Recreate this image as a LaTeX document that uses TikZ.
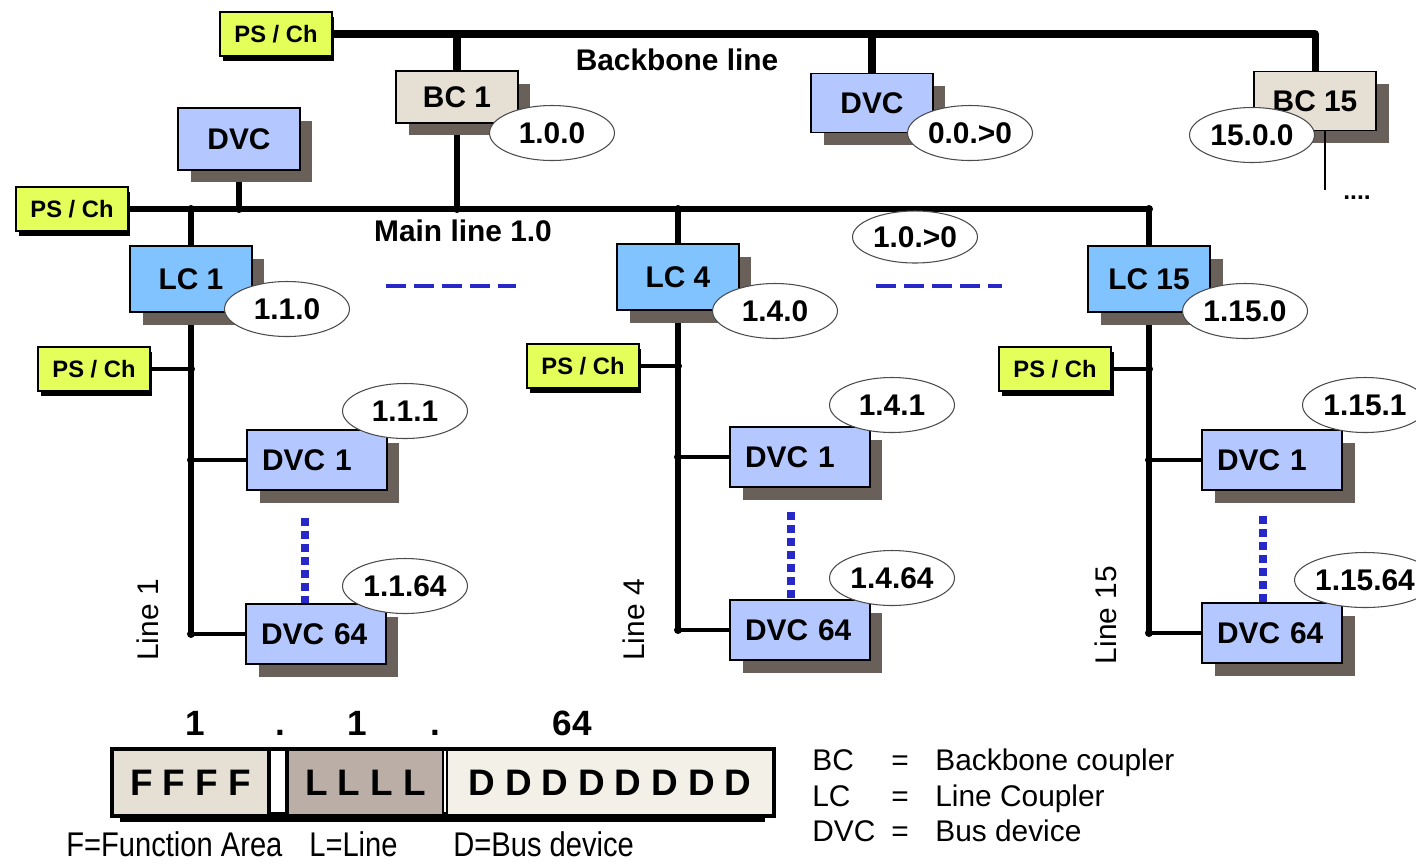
\documentclass[tikz,border=0pt]{standalone}
\usepackage{fontspec}
\setmainfont{Liberation Sans}
\newfontfamily\narrowfont[FakeStretch=0.85]{Liberation Sans}
\definecolor{psYellow}{RGB}{228,255,90}
\definecolor{bcBeige}{RGB}{230,223,212}
\definecolor{dvcBlue}{RGB}{180,200,255}
\definecolor{lcBlue}{RGB}{128,195,255}
\definecolor{shadowGray}{RGB}{105,97,89}
\definecolor{dashBlue}{RGB}{40,40,200}
\definecolor{lineGray}{RGB}{186,174,166}
\definecolor{devWhite}{RGB}{243,240,232}
\usetikzlibrary{shapes.geometric, shadows, backgrounds}
\newcommand{\fsz}[1]{\fontsize{#1}{#1}\selectfont}

\begin{document}
\begin{tikzpicture}[x=0.02cm, y=-0.02cm,
    box/.style={draw, line width=0.8pt, minimum width=2.44cm, minimum height=1.18cm,
                font=\fsz{17}\bfseries,
                drop shadow={shadow xshift=0.25cm, shadow yshift=-0.25cm, fill=shadowGray, opacity=1}},
    bc/.style={box, fill=bcBeige},
    dvc/.style={box, fill=dvcBlue},
    lc/.style={box, fill=lcBlue, minimum height=1.32cm},
    dev/.style={box, fill=dvcBlue, minimum width=2.8cm, minimum height=1.2cm,
                text width=2.2cm, inner xsep=0.3cm, align=left},
    ps/.style={draw, line width=0.8pt, fill=psYellow, minimum width=2.24cm, minimum height=0.88cm,
               font=\fsz{13.5}\bfseries,
               drop shadow={shadow xshift=0.05cm, shadow yshift=-0.1cm, fill=black, opacity=1}},
    addr/.style={ellipse, draw=black!70, line width=0.6pt, fill=white, minimum width=2.5cm,
                 minimum height=1.1cm, inner sep=0pt, font=\fsz{17}\bfseries},
    backbone/.style={line width=4pt},
    bus/.style={line width=3pt},
    branch/.style={line width=2.3pt},
    junction/.style={radius=0.08cm},
    gapdash/.style={dashBlue, line width=2.8pt, dash pattern=on 0.4cm off 0.16cm},
    devdots/.style={dashBlue, line width=0.16cm, dash pattern=on 0.16cm off 0.1cm},
    title/.style={font=\fsz{17}\bfseries},
    linelabel/.style={font=\fsz{17}, rotate=90},
    cell/.style={draw, line width=0.8pt, minimum height=1.3cm, inner sep=0pt, font=\fsz{21}\bfseries},
    digit/.style={font=\fsz{20}\bfseries, anchor=base},
    legend/.style={font=\fsz{17}, inner sep=0pt, anchor=base west},
    fieldname/.style={font=\narrowfont\fsz{19.5}, inner sep=0pt, anchor=base west}
  ]
    \useasboundingbox (0,0) rectangle (1416,863);

    % power supplies
    \node[ps] (psBB) at (276,34) {PS / Ch};
    \node[ps] (psML) at (72,209) {PS / Ch};
    \node[ps] (ps1) at (94,369) {PS / Ch};
    \node[ps] (ps4) at (583,366) {PS / Ch};
    \node[ps] (ps15) at (1055,369) {PS / Ch};

    % backbone and main line devices
    \node[bc, minimum height=1.04cm] (bc1) at (457,97) {BC 1};
    \node[dvc] (dvcBB) at (872,103) {DVC};
    \node[bc] (bc15) at (1315,101) {BC 15};
    \node[dvc, minimum height=1.24cm] (dvcML) at (239,139) {DVC};

    % line couplers
    \node[lc] (lc1) at (191,279) {LC 1};
    \node[lc] (lc4) at (678,277) {LC 4};
    \node[lc] (lc15) at (1149,279) {LC 15};

    % bus devices
    \node[dev] (dvcA1) at (317,460) {DVC 1};
    \node[dev] (dvcA64) at (316,634) {DVC 64};
    \node[dev] (dvcB1) at (800,457) {DVC 1};
    \node[dev] (dvcB64) at (800,630) {DVC 64};
    \node[dev] (dvcC1) at (1272,460) {DVC 1};
    \node[dev] (dvcC64) at (1272,633) {DVC 64};

    % addresses
    \node[addr] (a100) at (552,133) {1.0.0};
    \node[addr] (a00x) at (970,133) {0.0.>0};
    \node[addr] (a1500) at (1252,135) {15.0.0};
    \node[addr, minimum height=1.04cm] (a10x) at (915,237) {1.0.>0};
    \node[addr] (a110) at (287,309) {1.1.0};
    \node[addr] (a140) at (775,311) {1.4.0};
    \node[addr] (a1150) at (1245,311) {1.15.0};
    \node[addr] (a111) at (405,411) {1.1.1};
    \node[addr] (a1164) at (405,586) {1.1.64};
    \node[addr] (a141) at (892,405) {1.4.1};
    \node[addr] (a1464) at (892,578) {1.4.64};
    \node[addr] (a1151) at (1365,405) {1.15.1};
    \node[addr] (a11564) at (1365,580) {1.15.64};

    \coordinate (bbEnd) at (bc15.north |- psBB.east);
    \coordinate (mlEnd) at (lc15.north |- psML.east);

    \begin{scope}[on background layer]
      \draw[backbone] (psBB.east) -- (bbEnd);
      \draw[backbone] (bc1.north |- psBB.east) -- (bc1.north);
      \draw[backbone] (dvcBB.north |- psBB.east) -- (dvcBB.north);
      \draw[backbone] (bbEnd) -- (bc15.north);
      \draw[bus] (psML.east) -- (mlEnd);
      \draw[bus] (bc1.south) -- (bc1.south |- psML.east);
      \draw[bus] (dvcML.south) -- (dvcML.south |- psML.east);
      \draw[bus] (lc1.north |- psML.east) -- (lc1.north |- dvcA64.west);
      \draw[bus] (lc4.north |- psML.east) -- (lc4.north |- dvcB64.west);
      \draw[bus] (mlEnd) -- (lc15.north |- dvcC64.west);
      \draw[branch] (ps1.east) -- (ps1.east -| lc1.north);
      \draw[branch] (ps4.east) -- (ps4.east -| lc4.north);
      \draw[branch] (ps15.east) -- (ps15.east -| lc15.north);
      \draw[branch] (dvcA1.west -| lc1.north) -- (dvcA1.west);
      \draw[branch] (dvcA64.west -| lc1.north) -- (dvcA64.west);
      \draw[branch] (dvcB1.west -| lc4.north) -- (dvcB1.west);
      \draw[branch] (dvcB64.west -| lc4.north) -- (dvcB64.west);
      \draw[branch] (dvcC1.west -| lc15.north) -- (dvcC1.west);
      \draw[branch] (dvcC64.west -| lc15.north) -- (dvcC64.west);
    \end{scope}

    % junctions
    \fill[junction] (bc1.north |- psBB.east) circle;
    \fill[junction] (dvcBB.north |- psBB.east) circle;
    \fill[junction] (bbEnd) circle;
    \fill[junction] (lc1.north |- psML.east) circle;
    \fill[junction] (dvcML.south |- psML.east) circle;
    \fill[junction] (bc1.south |- psML.east) circle;
    \fill[junction] (lc4.north |- psML.east) circle;
    \fill[junction] (mlEnd) circle;
    \fill[junction] (ps1.east -| lc1.north) circle;
    \fill[junction] (ps4.east -| lc4.north) circle;
    \fill[junction] (ps15.east -| lc15.north) circle;
    \fill[junction] (dvcA1.west -| lc1.north) circle;
    \fill[junction] (dvcA64.west -| lc1.north) circle;
    \fill[junction] (dvcB1.west -| lc4.north) circle;
    \fill[junction] (dvcB64.west -| lc4.north) circle;
    \fill[junction] (dvcC1.west -| lc15.north) circle;
    \fill[junction] (dvcC64.west -| lc15.north) circle;

    % further backbone couplers
    \coordinate (bcTail) at (1325,190);
    \draw[line width=1.4pt] (bcTail |- bc15.south) -- (bcTail);
    \node[font=\fsz{14}\bfseries] (more) at (1357,198) {....};

    \node[title] (bbName) at (677,60) {Backbone line};
    \node[title] (mlName) at (463,231) {Main line 1.0};
    \node[linelabel] (line1) at (148,620) {Line 1};
    \node[linelabel] (line4) at (634,620) {Line 4};
    \node[linelabel] (line15) at (1106,615) {Line 15};

    % omitted lines and devices
    \coordinate (gapA) at (386,286);
    \coordinate (gapB) at (876,286);
    \draw[gapdash] (gapA) -- ++(130,0);
    \draw[gapdash] (gapB) -- ++(126,0);
    \coordinate (dotsA) at (305,518);
    \coordinate (dotsB) at (791,512);
    \coordinate (dotsC) at (1263,516);
    \draw[devdots] (dotsA) -- (dotsA |- dvcA64.north);
    \draw[devdots] (dotsB) -- (dotsB |- dvcB64.north);
    \draw[devdots] (dotsC) -- (dotsC |- dvcC64.north);

    % address format
    \fill (120,812) rectangle (765,822);
    \node[cell, fill=bcBeige, minimum width=3.1cm] (fBox) at (190.5,782.5)
      {F\kern0.2cm F\kern0.2cm F\kern0.2cm F};
    \node[cell, fill=lineGray, minimum width=3.1cm] (lBox) at (365.5,782.5)
      {L\kern0.2cm L\kern0.2cm L\kern0.2cm L};
    \node[cell, fill=devWhite, minimum width=6.52cm] (dBox) at (610,782.5)
      {D\kern0.2cm D\kern0.2cm D\kern0.2cm D\kern0.2cm D\kern0.2cm D\kern0.2cm D\kern0.2cm D};
    \draw[line width=2.2pt] (fBox.north west) rectangle (dBox.south east);
    \draw[line width=2.2pt] (fBox.north east) -- (fBox.south east)
                            (lBox.north west) -- (lBox.south west);

    \node[digit] (dF) at (195,735) {1};
    \node[digit] (dot1) at (280,735) {.};
    \node[digit] (dL) at (357,735) {1};
    \node[digit] (dot2) at (435,735) {.};
    \node[digit] (dD) at (572,735) {64};

    \node[fieldname] (fName) at (66,856) {F=Function Area};
    \node[fieldname] (lName) at (309,856) {L=Line};
    \node[fieldname] (dName) at (453,856) {D=Bus device};

    % legend
    \node[legend] (legBC) at (812,770) {BC};
    \node[legend] (legBCeq) at (891,770) {=};
    \node[legend] (legBCtxt) at (935,770) {Backbone coupler};
    \node[legend] (legLC) at (812,806) {LC};
    \node[legend] (legLCeq) at (891,806) {=};
    \node[legend] (legLCtxt) at (935,806) {Line Coupler};
    \node[legend] (legDVC) at (812,841) {DVC};
    \node[legend] (legDVCeq) at (891,841) {=};
    \node[legend] (legDVCtxt) at (935,841) {Bus device};
  \end{tikzpicture}
\end{document}
